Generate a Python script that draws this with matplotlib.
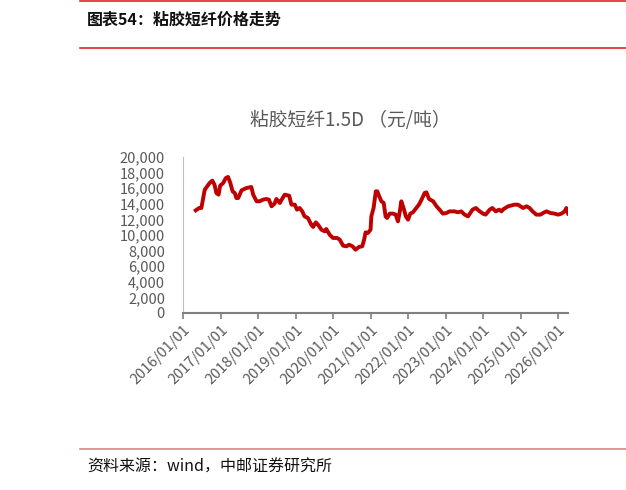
import numpy as np
import pandas as pd
import matplotlib
matplotlib.use('Agg')
from matplotlib import pyplot as plt
import matplotlib.transforms as mtransforms
from matplotlib.lines import Line2D

plt.rcParams['font.family'] = ['Noto Sans CJK SC', 'DejaVu Sans']

# approx. decimal years and prices (yuan/ton)
years = [2016.34, 2016.43, 2016.49, 2016.58, 2016.71, 2016.78, 2016.84, 2016.89, 2016.95, 2016.99,
         2017.07, 2017.14, 2017.20, 2017.26, 2017.32, 2017.38, 2017.42, 2017.47, 2017.56, 2017.69,
         2017.82, 2017.87, 2017.96, 2018.04, 2018.13, 2018.22, 2018.29, 2018.36, 2018.44, 2018.49,
         2018.58, 2018.62, 2018.71, 2018.83, 2018.89, 2018.98, 2019.04, 2019.11, 2019.18, 2019.24,
         2019.33, 2019.42, 2019.47, 2019.54, 2019.60, 2019.69, 2019.78, 2019.82, 2019.91, 2020.00,
         2020.11, 2020.18, 2020.27, 2020.36, 2020.43, 2020.52, 2020.60, 2020.69, 2020.78, 2020.83,
         2020.87, 2020.93, 2021.00, 2021.02, 2021.08, 2021.14, 2021.18, 2021.23, 2021.29, 2021.35,
         2021.40, 2021.44, 2021.51, 2021.60, 2021.67, 2021.73, 2021.78, 2021.82, 2021.88, 2021.94,
         2022.00, 2022.06, 2022.13, 2022.22, 2022.29, 2022.36, 2022.44, 2022.49, 2022.56, 2022.67,
         2022.76, 2022.84, 2022.93, 2023.02, 2023.11, 2023.24, 2023.33, 2023.42, 2023.51, 2023.60,
         2023.72, 2023.81, 2023.91, 2024.00, 2024.07, 2024.18, 2024.25, 2024.34, 2024.43, 2024.49,
         2024.55, 2024.67, 2024.84, 2024.93, 2025.00, 2025.07, 2025.16, 2025.24, 2025.32, 2025.42,
         2025.53, 2025.60, 2025.69, 2025.80, 2025.91, 2026.00, 2026.09, 2026.18, 2026.22, 2026.27]
prices = [13160, 13460, 13460, 15810, 16670, 16970, 16450, 15380, 15170, 16320,
          16670, 17310, 17440, 16670, 15600, 15380, 14740, 14740, 15730, 16030,
          16150, 15170, 14320, 14320, 14530, 14620, 14530, 13680, 14020, 14620,
          14100, 14450, 15170, 15040, 13890, 13890, 13250, 13460, 13030, 12390,
          12180, 11320, 11030, 11620, 11320, 10680, 10470, 10770, 10040, 9620,
          9620, 9400, 8630, 8550, 8760, 8550, 8120, 8460, 8550, 9400,
          10340, 10260, 10680, 12390, 13460, 15600, 15600, 14960, 14320, 14100,
          12390, 12180, 12740, 12740, 12610, 11750, 13030, 14320, 13460, 12390,
          11970, 12740, 12910, 13460, 13890, 14530, 15380, 15470, 14620, 14320,
          13680, 13250, 12740, 12820, 13030, 13030, 12910, 13030, 12610, 12390,
          13250, 13460, 13030, 12740, 12610, 13250, 13460, 13030, 13250, 13030,
          13330, 13680, 13890, 13890, 13680, 13460, 13680, 13460, 13030, 12610,
          12610, 12820, 13030, 12820, 12740, 12610, 12740, 13030, 13460, 12740]

def to_date(y):
    yr = int(y)
    start = pd.Timestamp(yr, 1, 1)
    return start + pd.Timedelta(days=(y - yr) * 365.25)

dates = [to_date(y) for y in years]
tick_dates = [pd.Timestamp(y, 1, 1) for y in range(2016, 2027)]
tick_labels = [d.strftime('%Y/%m/%d') for d in tick_dates]

fig = plt.figure(figsize=(6.26, 4.9), dpi=100)

# header / footer decorations
fig.add_artist(Line2D([80/626, 1], [1 - 1.5/490] * 2, color='#D9262B', lw=1.2))
fig.add_artist(Line2D([80/626, 1], [1 - 48/490] * 2, color='#D9262B', lw=1.2))
fig.add_artist(Line2D([80/626, 1], [1 - 449/490] * 2, color='#E08080', lw=1.2))
fig.text(87/626, 1 - 20/490, '图表54：粘胶短纤价格走势', fontsize=11.5, fontweight='bold',
         va='center', ha='left', color='#111111')
fig.text(87/626, 1 - 467/490, '资料来源：wind，中邮证券研究所', fontsize=11.5,
         va='center', ha='left', color='#111111')
fig.text(350/626, 1 - 120/490, '粘胶短纤1.5D （元/吨）', fontsize=13.5, va='center',
         ha='center', color='#595959')

ax = fig.add_axes([183/626, 1 - 313/490, 385/626, 156/490])
ax.plot(dates, prices, color='#C00000', lw=2.8, solid_joinstyle='round')

ax.set_ylim(0, 20000)
ax.set_yticks(np.arange(0, 20001, 2000))
ax.set_yticklabels([f'{v:,}' for v in range(0, 20001, 2000)])
ax.set_xlim(pd.Timestamp(2016, 1, 1), pd.Timestamp(2026, 4, 8))
ax.set_xticks(tick_dates)
ax.set_xticklabels(tick_labels, rotation=45, ha='right', rotation_mode='anchor')

shift = mtransforms.ScaledTranslation(5/100, 0, fig.dpi_scale_trans)
for lbl in ax.get_xticklabels():
    lbl.set_transform(lbl.get_transform() + shift)

for s in ['top', 'right']:
    ax.spines[s].set_visible(False)
ax.spines['left'].set_color('#BFBFBF')
ax.spines['left'].set_linewidth(0.8)
ax.spines['bottom'].set_color('#7F7F7F')
ax.spines['bottom'].set_linewidth(1.5)
ax.tick_params(axis='y', length=0, labelsize=10.5, colors='#595959', pad=13)
ax.tick_params(axis='x', length=4, width=1.2, color='#7F7F7F', labelsize=10.5,
               labelcolor='#595959', pad=3)

fig.savefig('out.png', dpi=100)
